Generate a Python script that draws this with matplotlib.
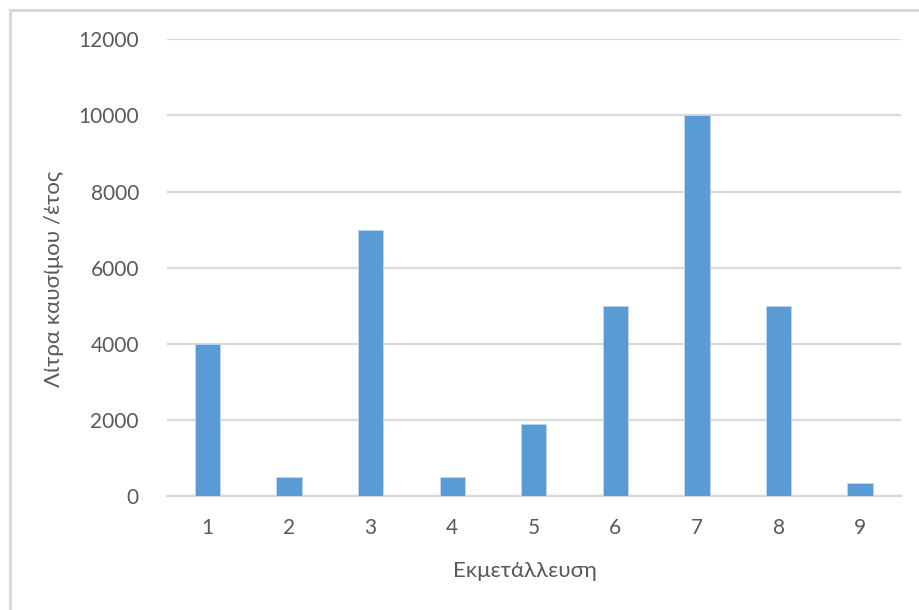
import matplotlib
matplotlib.use("Agg")
import matplotlib.pyplot as plt
from matplotlib.patches import Rectangle

plt.rcParams['font.family'] = ['Lato', 'Open Sans', 'DejaVu Sans']

# Annual fuel consumption per farm
farms = ["1", "2", "3", "4", "5", "6", "7", "8", "9"]
litres = [4000, 500, 7000, 500, 1900, 5000, 10000, 5000, 340]
y_ticks = [0, 2000, 4000, 6000, 8000, 10000, 12000]

bar_color = "#5B9BD5"
grid_color = "#D9D9D9"
text_color = "#595959"

fig = plt.figure(figsize=(9.2, 6.1), dpi=100)
ax = fig.add_axes([0.1812, 0.1869, 0.798, 0.7487])

x = list(range(len(farms)))
ax.bar(x, litres, width=0.31, color=bar_color, edgecolor="#BDD7EE",
       linewidth=0.6, zorder=3)

ax.set_xlim(-0.5, len(farms) - 0.5)
ax.set_ylim(0, 12000)
ax.set_yticks(y_ticks)
ax.set_yticklabels([str(v) for v in y_ticks])
ax.set_xticks(x)
ax.set_xticklabels(farms)

ax.yaxis.grid(True, color=grid_color, linewidth=1.6, zorder=0)
ax.set_axisbelow(True)
for side in ["top", "right", "left"]:
    ax.spines[side].set_visible(False)
ax.spines["bottom"].set_color(grid_color)
ax.spines["bottom"].set_linewidth(1.6)
ax.spines["bottom"].set_zorder(1)

ax.tick_params(axis="both", length=0, labelsize=15, labelcolor=text_color)
ax.tick_params(axis="y", pad=20)
ax.tick_params(axis="x", pad=16)

fig.text(0.5707, 0.064, "Εκμετάλλευση", ha="center", va="center",
         fontsize=16, color=text_color)
fig.text(0.059, 0.542, "Λίτρα καυσίμου /έτος", ha="center", va="center",
         rotation=90, fontsize=16, color=text_color)

# Chart-area frame
fig.patches.append(Rectangle((10 / 920, -0.05), 1.0, 1 - 10 / 610 + 0.05,
                             transform=fig.transFigure, fill=False,
                             edgecolor=grid_color, linewidth=2.2))

fig.savefig("out.png", dpi=100, facecolor="white")
